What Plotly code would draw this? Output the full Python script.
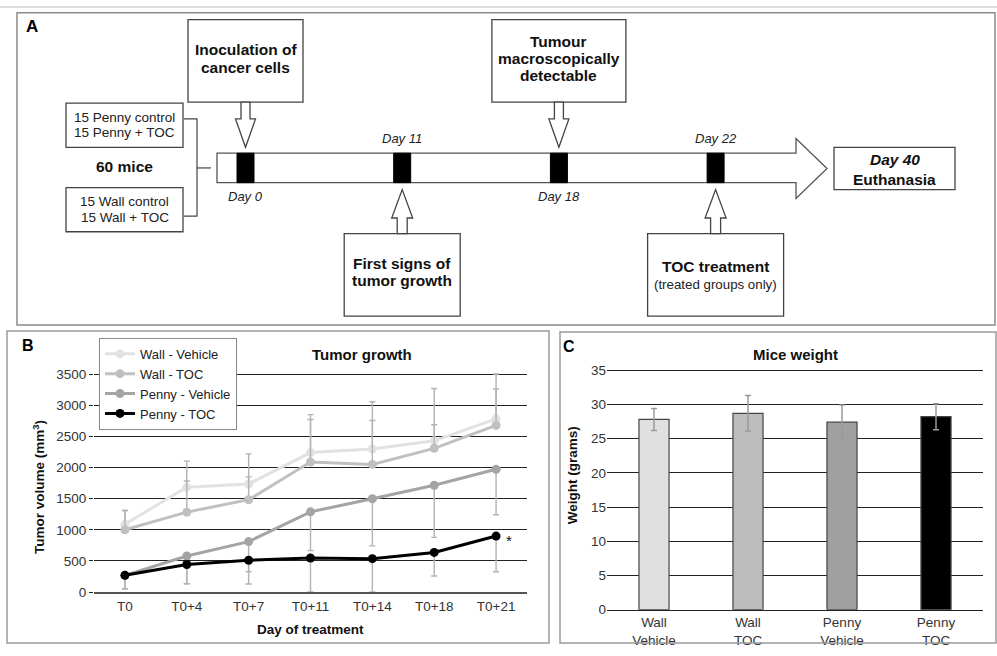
import plotly.graph_objects as go

W, H = 997, 656
FONT = "Liberation Sans, Arial, Helvetica, sans-serif"

# ---------------- Panel B data (tumour volume, mm3) ----------------
days = ["T0", "T0+4", "T0+7", "T0+11", "T0+14", "T0+18", "T0+21"]
wall_vehicle = [1090, 1683, 1735, 2240, 2298, 2429, 2781]
wall_vehicle_err = [220, 420, 484, 610, 757, 841, 720]
wall_toc = [1000, 1283, 1483, 2087, 2050, 2308, 2676]
wall_toc_err = [310, 500, 367, 685, 705, 378, 584]
penny_vehicle = [268, 579, 810, 1288, 1498, 1714, 1971]
penny_vehicle_err = [216, 445, 484, 620, 757, 836, 730]
penny_toc = [268, 442, 510, 547, 536, 636, 899]
penny_toc_err = [216, 310, 380, 547, 536, 379, 573]

series_names = ["Wall - Vehicle", "Wall - TOC", "Penny - Vehicle", "Penny - TOC"]
series_values = [wall_vehicle, wall_toc, penny_vehicle, penny_toc]
series_errors = [wall_vehicle_err, wall_toc_err, penny_vehicle_err, penny_toc_err]
series_err_up = [True, True, False, False]
series_colors = ["#e2e2e2", "#c0c0c0", "#a4a4a4", "#000000"]

# ---------------- Panel C data (mice weight, grams) ----------------
weight_groups = ["Wall Vehicle", "Wall TOC", "Penny Vehicle", "Penny TOC"]
weight_means = [27.8, 28.7, 27.4, 28.2]
weight_sd = [1.6, 2.6, 2.5, 1.9]
weight_colors = ["#e0e0e0", "#bdbdbd", "#a0a0a0", "#000000"]

# ---------------- Panel A data (timeline) ----------------
event_labels = ["Day 0", "Day 11", "Day 18", "Day 22"]
event_side = ["above", "below", "above", "below"]
callout_lines = [["Inoculation of", "cancer cells"],
                 ["First signs of", "tumor growth"],
                 ["Tumour", "macroscopically", "detectable"],
                 ["TOC treatment", "(treated groups only)"]]
callout_halfwidth = [57.5, 58, 67, 68]
group_boxes = [["15 Penny control", "15 Penny + TOC"],
               ["15 Wall control", "15 Wall + TOC"]]


def px(x):
    return x / W


def py(y):
    return 1 - y / H


shapes = []
annotations = []


def rect(x0, y0, x1, y1, line="#444", width=1.2, fill=None):
    d = dict(type="rect", xref="paper", yref="paper",
             x0=px(x0), x1=px(x1), y0=py(y0), y1=py(y1),
             line=dict(color=line, width=width))
    if fill:
        d["fillcolor"] = fill
    shapes.append(d)


def poly(points, line="#444", width=1.2, fill="white", closed=True):
    path = "M " + " L ".join(f"{px(x):.5f},{py(y):.5f}" for x, y in points)
    if closed:
        path += " Z"
    d = dict(type="path", xref="paper", yref="paper", path=path,
             line=dict(color=line, width=width))
    if closed:
        d["fillcolor"] = fill
    shapes.append(d)


def text(x, y, s, size=13.5, bold=False, italic=False, color="#111",
         xanchor="center"):
    if bold:
        s = f"<b>{s}</b>"
    if italic:
        s = f"<i>{s}</i>"
    annotations.append(dict(x=px(x), y=py(y), xref="paper", yref="paper",
                            text=s, showarrow=False, xanchor=xanchor,
                            yanchor="middle",
                            font=dict(family=FONT, size=size, color=color)))


def vtext(x, y, s, size=13.5, length=170):
    annotations.append(dict(x=px(x), y=py(y), xref="paper", yref="paper",
                            text=s, showarrow=False, textangle=-90,
                            width=length, height=size * 1.4,
                            xanchor="center", yanchor="middle",
                            font=dict(family=FONT, size=size, color="#111")))


# ---------- frames ----------
shapes.append(dict(type="line", xref="paper", yref="paper", x0=0, x1=1,
                   y0=py(3), y1=py(3), line=dict(color="#cfcfcf", width=1.5)))
rect(17, 9, 995, 327, line="#8a8a8a", width=1.5)
rect(7, 333, 549, 651, line="#9a9a9a", width=1.5)
rect(560, 334, 996, 651, line="#9a9a9a", width=1.5)

# ---------- Panel A ----------
text(32, 23, "A", size=17, bold=True, color="#000")

poly([(217, 152), (796, 152), (796, 137), (827, 167.5), (796, 198),
      (796, 182), (217, 182)], line="#555", width=1.3)

EV_X0, EV_STEP = 245.5, 156.7
for i, lab in enumerate(event_labels):
    cx = EV_X0 + i * EV_STEP
    rect(cx - 8.5, 152, cx + 8.5, 182, line="#000", width=1, fill="#000")
    lines = callout_lines[i]
    hw = callout_halfwidth[i]
    if event_side[i] == "above":
        text(cx, 196, lab, size=13, italic=True, color="#222")
        rect(cx - hw, 16, cx + hw, 100, line="#444", width=1.3, fill="white")
        poly([(cx - 4.5, 100), (cx - 4.5, 117), (cx - 10, 117), (cx, 146),
              (cx + 10, 117), (cx + 4.5, 117), (cx + 4.5, 100)],
             line="#444", width=1.3)
        yc, step = 55.5, 17.5
    else:
        text(cx, 137, lab, size=13, italic=True, color="#222")
        rect(cx - hw, 234, cx + hw, 318, line="#444", width=1.3, fill="white")
        poly([(cx - 5, 234), (cx - 5, 218), (cx - 10.5, 218), (cx, 189),
              (cx + 10.5, 218), (cx + 5, 218), (cx + 5, 234)],
             line="#444", width=1.3)
        yc, step = (273, 18) if i == 1 else (276.5, 19)
    n = len(lines)
    for k, s in enumerate(lines):
        y = yc + (k - (n - 1) / 2) * step
        if s.startswith("("):
            text(cx, y, s, size=13.3, color="#222")
        else:
            text(cx, y, s, size=15.5, bold=True, color="#111")

for j, lines in enumerate(group_boxes):
    y0 = 101 if j == 0 else 187
    rect(66, y0, 183, y0 + 45, line="#444", width=1.3, fill="white")
    text(124.5, y0 + 14.5, lines[0], size=13.5, color="#222")
    text(124.5, y0 + 30, lines[1], size=13.5, color="#222")
text(124, 166, "60 mice", size=15.5, bold=True, color="#111")
poly([(184, 117), (197, 117), (197, 216), (184, 216)], line="#444",
     width=1.2, closed=False)
poly([(197, 167), (211, 167)], line="#444", width=1.2, closed=False)

rect(834, 146, 955, 189, line="#444", width=1.3, fill="white")
text(894.5, 158, "<b>Day 40</b>", size=15.5, italic=True, color="#111")
text(894.5, 179, "Euthanasia", size=15.5, bold=True, color="#111")

# ---------- Panel B ----------
fig = go.Figure()
for name, vals, errs, up, col in zip(series_names, series_values,
                                     series_errors, series_err_up,
                                     series_colors):
    zeros = [0] * len(errs)
    fig.add_trace(go.Scatter(
        x=days, y=vals, name=name, mode="lines+markers",
        line=dict(color=col, width=3),
        marker=dict(color=col, size=9),
        error_y=dict(type="data", symmetric=False,
                     array=errs if up else zeros,
                     arrayminus=zeros if up else errs,
                     color="#b3b3b3", thickness=1.4, width=3),
        xaxis="x", yaxis="y"))

B_LEFT, B_RIGHT, B_ZERO, B_3500 = 94, 527, 599, 377
b_scale = (B_ZERO - B_3500) / 3500.0
b_top_val = 3700
b_top_px = B_ZERO - b_top_val * b_scale

annotations.append(dict(x=days[-1], y=penny_toc[-1], xref="x", yref="y",
                        text="*", showarrow=False, xshift=13, yshift=-4,
                        font=dict(family=FONT, size=15, color="#111")))
text(28, 348, "B", size=16, bold=True, color="#000")
text(362, 357, "Tumor growth", size=15, bold=True, color="#111")
text(310, 637, "Day of treatment", size=13.5, bold=True, color="#111")
vtext(38, 492, "<b>Tumor volume (mm<sup>3</sup>)</b>", length=170)

# ---------- Panel C ----------
fig.add_trace(go.Bar(
    x=weight_groups, y=weight_means, width=0.32, showlegend=False,
    marker=dict(color=weight_colors, line=dict(color="#444", width=1.2)),
    error_y=dict(type="data", array=weight_sd, color="#9a9a9a",
                 thickness=1.5, width=3),
    xaxis="x2", yaxis="y2"))

C_LEFT, C_RIGHT, C_ZERO, C_35 = 607, 983, 617, 373
c_scale = (C_ZERO - C_35) / 35.0
c_top_val = 35.4
c_top_px = C_ZERO - c_top_val * c_scale

text(569, 349, "C", size=16, bold=True, color="#000")
text(795.5, 357, "Mice weight", size=15, bold=True, color="#111")
vtext(572, 480, "<b>Weight (grams)</b>", length=140)

tickfont = dict(family=FONT, size=13.5, color="#333")
fig.update_layout(
    width=W, height=H, autosize=False,
    margin=dict(l=0, r=0, t=0, b=0),
    paper_bgcolor="white", plot_bgcolor="white",
    font=dict(family=FONT),
    shapes=shapes, annotations=annotations,
    showlegend=True,
    legend=dict(x=px(99), y=py(340), xanchor="left", yanchor="top",
                bgcolor="white", bordercolor="#8a8a8a", borderwidth=1,
                font=dict(family=FONT, size=13, color="#222"),
                tracegroupgap=0, itemwidth=30),
    xaxis=dict(domain=[px(B_LEFT), px(B_RIGHT)], type="category",
               categoryorder="array", categoryarray=days,
               range=[-0.5, len(days) - 0.5], showgrid=False,
               showline=True, linecolor="#555", linewidth=1.5,
               ticks="", tickfont=tickfont, ticklabelstandoff=1,
               anchor="y", zeroline=False),
    yaxis=dict(domain=[py(B_ZERO), py(b_top_px)], range=[0, b_top_val],
               tickmode="linear", tick0=0, dtick=500,
               showgrid=True, gridcolor="#222", gridwidth=1,
               zeroline=False, ticks="outside", ticklen=4,
               tickcolor="#222", tickwidth=1, tickfont=tickfont,
               anchor="x", showline=False),
    xaxis2=dict(domain=[px(C_LEFT), px(C_RIGHT)], type="category",
                categoryorder="array", categoryarray=weight_groups,
                range=[-0.5, len(weight_groups) - 0.5],
                tickvals=weight_groups,
                ticktext=[g.replace(" ", "<br>") for g in weight_groups],
                showgrid=False, showline=True, linecolor="#222",
                linewidth=1.5, ticks="", tickfont=tickfont,
                ticklabelstandoff=0, anchor="y2", zeroline=False),
    yaxis2=dict(domain=[py(C_ZERO), py(c_top_px)], range=[0, c_top_val],
                tickmode="linear", tick0=0, dtick=5, showgrid=True,
                gridcolor="#222", gridwidth=1, zeroline=False, ticks="",
                tickfont=tickfont, anchor="x2", showline=False),
)

fig.write_html(
    "out.html",
    config={"displayModeBar": False, "staticPlot": True},
    post_script="document.body.style.margin='0';"
                "document.body.style.overflow='hidden';")
